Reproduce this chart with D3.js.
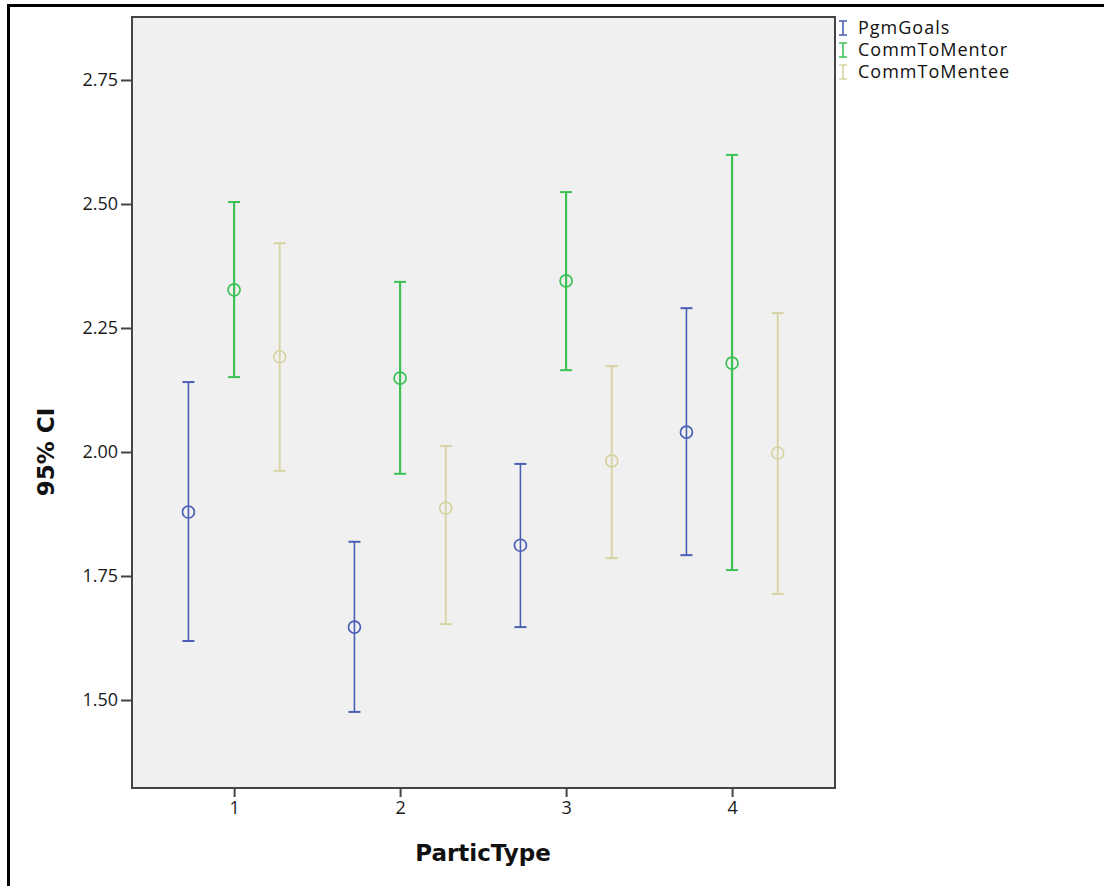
<!DOCTYPE html>
<html>
<head>
<meta charset="utf-8">
<script src="https://cdn.jsdelivr.net/npm/d3@7"></script>
<style>
  body { margin: 0; background: #fff; }
  svg { display: block; }
</style>
</head>
<body>
<div id="chart"></div>
<script>
// categories and series
var particTypes = [1, 2, 3, 4];
var seriesNames = ["PgmGoals", "CommToMentor", "CommToMentee"];
var seriesColors = ["#4a5fb5", "#3cc155", "#d6d3a2"];

// mean, lower and upper bound of the 95% CI, one value per ParticType
var pgmMean  = [1.879, 1.647, 1.812, 2.040];
var pgmLow   = [1.619, 1.476, 1.647, 1.792];
var pgmHigh  = [2.141, 1.819, 1.976, 2.290];

var mentorMean = [2.327, 2.149, 2.345, 2.179];
var mentorLow  = [2.151, 1.956, 2.165, 1.762];
var mentorHigh = [2.504, 2.343, 2.524, 2.599];

var menteeMean = [2.192, 1.887, 1.982, 1.998];
var menteeLow  = [1.962, 1.653, 1.786, 1.714];
var menteeHigh = [2.421, 2.012, 2.173, 2.280];

var yTicks = [1.50, 1.75, 2.00, 2.25, 2.50, 2.75];

var svgWidth = 1104;
var svgHeight = 886;

// plot frame
var plot = { left: 132, top: 17, right: 835, bottom: 788 };

var svg = d3.select("#chart")
  .append("svg")
  .attr("width", svgWidth)
  .attr("height", svgHeight);

// outer frame (only top and left edges show in the picture)
svg.append("line").attr("x1", 8.5).attr("x2", svgWidth).attr("y1", 5.5).attr("y2", 5.5)
  .attr("stroke", "#000").attr("stroke-width", 3);
svg.append("line").attr("x1", 8.5).attr("x2", 8.5).attr("y1", 4).attr("y2", svgHeight)
  .attr("stroke", "#000").attr("stroke-width", 3);

var x = d3.scaleLinear().domain([0.385, 4.62]).range([plot.left, plot.right]);
var y = d3.scaleLinear().domain([1.3226, 2.877]).range([plot.bottom, plot.top]);

// background
svg.append("rect")
  .attr("x", plot.left).attr("y", plot.top)
  .attr("width", plot.right - plot.left).attr("height", plot.bottom - plot.top)
  .attr("fill", "#f0f0f0")
  .attr("stroke", "#444").attr("stroke-width", 2);

// axes
var yAxis = d3.axisLeft(y).tickValues(yTicks).tickFormat(d3.format(".2f")).tickSize(11).tickPadding(3);
var gy = svg.append("g").attr("transform", "translate(" + plot.left + ",0)").call(yAxis);
var xAxis = d3.axisBottom(x).tickValues(particTypes).tickFormat(d3.format("d")).tickSize(9).tickPadding(4);
var gx = svg.append("g").attr("transform", "translate(0," + plot.bottom + ")").call(xAxis);

[gx, gy].forEach(function(g){
  g.attr("font-family", "'Open Sans', sans-serif").attr("font-size", 18);
  g.select(".domain").remove();
  g.selectAll(".tick line").attr("stroke", "#444").attr("stroke-width", 2);
  g.selectAll(".tick text").attr("fill", "#1a1a1a");
});

// axis titles
svg.append("text")
  .attr("transform", "translate(54," + y(2.0) + ") rotate(-90)")
  .attr("text-anchor", "middle")
  .attr("font-family", "'DejaVu Sans', sans-serif")
  .attr("font-weight", "bold")
  .attr("font-size", 23)
  .attr("fill", "#111")
  .text("95% CI");

svg.append("text")
  .attr("x", 483).attr("y", 861)
  .attr("text-anchor", "middle")
  .attr("font-family", "'DejaVu Sans', sans-serif")
  .attr("font-weight", "bold")
  .attr("font-size", 23)
  .attr("fill", "#111")
  .text("ParticType");

// build the rows for the error bars
var offsets = [-0.275, 0, 0.275];
var allMeans = [pgmMean, mentorMean, menteeMean];
var allLows = [pgmLow, mentorLow, menteeLow];
var allHighs = [pgmHigh, mentorHigh, menteeHigh];
var widths = [1.6, 2.2, 1.8];

var rows = [];
for (var s = 0; s < seriesNames.length; s++) {
  for (var i = 0; i < particTypes.length; i++) {
    rows.push({
      s: s,
      pos: particTypes[i] + offsets[s],
      mean: allMeans[s][i],
      low: allLows[s][i],
      high: allHighs[s][i]
    });
  }
}

var bars = svg.append("g").selectAll("g")
  .data(rows)
  .enter()
  .append("g")
  .attr("stroke", d => seriesColors[d.s])
  .attr("fill", "none");

bars.append("line")
  .attr("x1", d => x(d.pos)).attr("x2", d => x(d.pos))
  .attr("y1", d => y(d.low)).attr("y2", d => y(d.high))
  .attr("stroke-width", d => widths[d.s]);

bars.append("line")
  .attr("x1", d => x(d.pos) - 6).attr("x2", d => x(d.pos) + 6)
  .attr("y1", d => y(d.high)).attr("y2", d => y(d.high))
  .attr("stroke-width", 2);

bars.append("line")
  .attr("x1", d => x(d.pos) - 6).attr("x2", d => x(d.pos) + 6)
  .attr("y1", d => y(d.low)).attr("y2", d => y(d.low))
  .attr("stroke-width", 2);

bars.append("circle")
  .attr("cx", d => x(d.pos))
  .attr("cy", d => y(d.mean))
  .attr("r", 6)
  .attr("fill", "none")
  .attr("stroke-width", 1.7);

// legend
var legend = svg.append("g").selectAll("g")
  .data(seriesNames)
  .enter()
  .append("g")
  .attr("transform", (d, i) => "translate(843," + (28 + i * 22) + ")");

legend.append("path")
  .attr("d", "M-4,-7H4M0,-7V7M-4,7H4")
  .attr("stroke", (d, i) => seriesColors[i])
  .attr("stroke-width", 1.6)
  .attr("fill", "none");

legend.append("text")
  .attr("x", 15).attr("y", 6)
  .attr("font-family", "'Open Sans', sans-serif")
  .attr("font-size", 18)
  .attr("letter-spacing", 1)
  .attr("fill", "#111")
  .text(d => d);
</script>
</body>
</html>
